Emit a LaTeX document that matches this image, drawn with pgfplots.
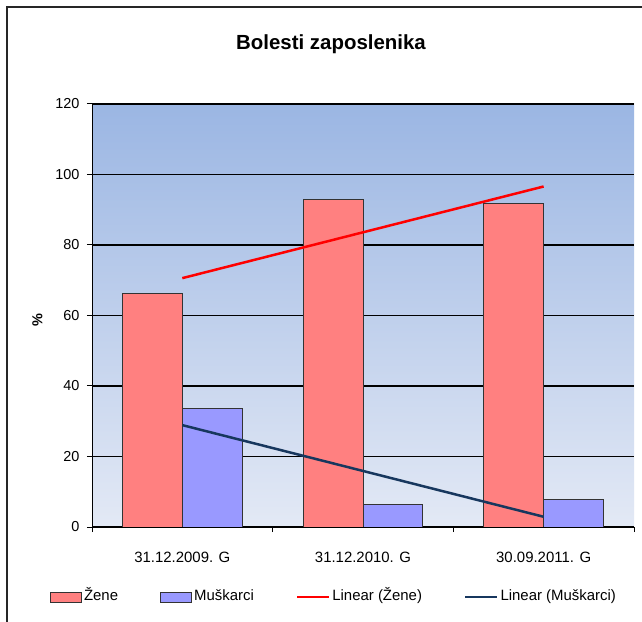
\documentclass[border=0pt]{standalone}
\usepackage{pgfplots}
\pgfplotsset{compat=1.18}
\usepackage{fontspec}
\setmainfont{Liberation Sans}

\definecolor{zene}{HTML}{FF8080}
\definecolor{musk}{HTML}{9999FF}
\definecolor{navy}{HTML}{17375E}
\definecolor{bgtop}{HTML}{9BB6E3}
\definecolor{bgbot}{HTML}{E3E9F5}

\pgfplotsset{
    boxlegend/.style={legend image code/.code={\draw[##1] (0bp,-5bp) rectangle (31bp,5bp);}},
    linelegend/.style={legend image code/.code={\draw[##1] (0bp,0bp) -- (32bp,0bp);}},
}

\begin{document}
\begin{tikzpicture}
\useasboundingbox (0,0) rectangle (642bp,622bp);
\fill[white] (0,0) rectangle (642bp,622bp);
% chart frame (cut at right and bottom)
\draw[line width=1.5bp, black!85] (7bp,0) -- (7bp,615bp) -- (642bp,615bp);
\node[anchor=base, font=\fontsize{20.5}{24}\selectfont\bfseries] at (331bp,572.7bp) {Bolesti zaposlenika};

\begin{axis}[
    at={(92bp,95bp)}, anchor=south west,
    scale only axis,
    width=542bp, height=423bp,
    xmin=0.5, xmax=3.5,
    ymin=0, ymax=120,
    ytick={0,20,...,120},
    xtick={0.5,1.5,2.5,3.5},
    xticklabels={},
    extra x ticks={1,2,3},
    extra x tick labels={31.12.2009. G, 31.12.2010. G, 30.09.2011. G},
    extra x tick style={major tick length=0pt},
    axis x line*=bottom, axis y line*=left,
    axis line style={-, black, line width=1bp},
    tick align=outside,
    major tick length=5bp,
    tick style={black, line width=1bp},
    ymajorgrids,
    major grid style={black, line width=1.2bp},
    axis background/.style={top color=bgtop, bottom color=bgbot, draw=none},
    /pgf/number format/assume math mode=true,
    ticklabel style={font=\fontsize{14.5}{17}\selectfont},
    xticklabel style={font=\fontsize{15}{18}\selectfont, yshift=-22bp},
    yticklabel style={xshift=-4bp},
    ylabel={\bfseries\%},
    ylabel style={at={(axis description cs:-0.1006,0.489)}, anchor=center, font=\fontsize{14.5}{17}\selectfont},
    legend columns=4,
    legend style={draw=none, fill=none, at={(0.4465,-0.1655)}, anchor=center,
        font=\fontsize{15}{18}\selectfont,
        nodes={text height=11bp, text depth=3.5bp},
        /tikz/every even column/.append style={column sep=40bp}},
]

% Zene
\addplot[ybar, bar width=0.332, bar shift=-0.166, fill=zene, draw=black!80, line width=1bp, boxlegend]
    coordinates {(1,66.1) (2,93.0) (3,91.8)};
% Muskarci
\addplot[ybar, bar width=0.332, bar shift=0.166, fill=musk, draw=black!80, line width=1bp, boxlegend]
    coordinates {(1,33.7) (2,6.4) (3,7.7)};
% linear trends
\addplot[sharp plot, red, line width=2.5bp, no marks, linelegend]
    coordinates {(1,70.6) (3,96.6)};
\addplot[sharp plot, navy, line width=2.5bp, no marks, linelegend]
    coordinates {(1,28.9) (3,2.9)};

\legend{Žene, Muškarci, Linear (Žene), Linear (Muškarci)}
\end{axis}
\end{tikzpicture}
\end{document}
